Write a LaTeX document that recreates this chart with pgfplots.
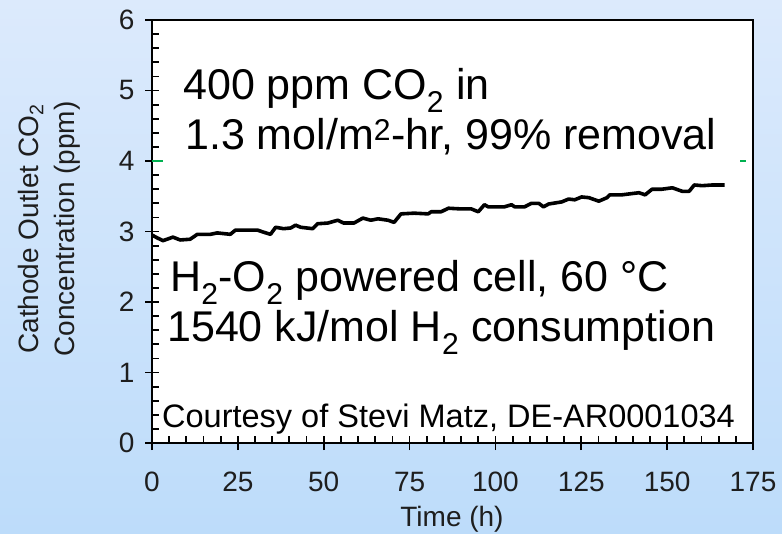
\documentclass[border=0pt]{standalone}
\usepackage{pgfplots}
\pgfplotsset{compat=1.18}
\usepackage{pgfplotstable}
\usepackage{fontspec}
\setmainfont{Liberation Sans}
\definecolor{bgtop}{RGB}{220,234,252}
\definecolor{bgbot}{RGB}{189,220,250}
\definecolor{lgreen}{RGB}{0,176,80}
\definecolor{txt}{RGB}{30,30,30}

\pgfplotstableread{
t c
0 2.95
1.5 2.91
3.2 2.87
6.1 2.92
8.2 2.88
11.1 2.89
13.2 2.96
17.0 2.96
19.0 2.98
22.8 2.96
24.3 3.02
30.7 3.02
32.5 2.99
34.5 2.96
36.0 3.06
38.3 3.04
40.4 3.05
41.8 3.09
43.3 3.06
46.8 3.04
48.2 3.11
51.2 3.12
54.1 3.16
55.8 3.12
58.8 3.12
61.4 3.19
63.7 3.16
65.8 3.18
68.7 3.16
70.5 3.13
72.5 3.25
76.3 3.26
80.4 3.25
81.3 3.28
84.2 3.28
86.3 3.33
90.1 3.32
93.0 3.32
95.0 3.28
96.8 3.38
97.9 3.35
102.6 3.35
104.7 3.38
105.6 3.35
108.5 3.35
110.5 3.40
112.6 3.40
114.0 3.35
115.5 3.39
119.3 3.42
121.3 3.46
123.1 3.45
125.1 3.49
127.2 3.48
130.1 3.43
132.5 3.48
133.3 3.52
136.8 3.52
141.8 3.55
143.6 3.52
145.6 3.60
148.5 3.60
151.5 3.62
154.4 3.57
156.4 3.57
157.9 3.66
160.2 3.65
163.2 3.66
166.7 3.66
}\co

\begin{document}
\begin{tikzpicture}[x=1pt,y=1pt]
\shade[top color=bgtop,bottom color=bgbot] (0,0) rectangle (782,533);
\begin{axis}[
  at={(152pt,90pt)}, anchor=south west,
  scale only axis, width=601pt, height=423pt,
  xmin=0, xmax=175, ymin=0, ymax=6,
  xtick={0,25,...,175}, ytick={0,1,...,6},
  minor x tick num=4, minor y tick num=4,
  xtick pos=bottom, ytick pos=left,
  tick align=inside, major tick length=7pt, minor tick length=7pt,
  extra x ticks={0,25,...,175}, extra x tick labels={},
  extra y ticks={0,1,...,6}, extra y tick labels={},
  extra tick style={tick align=outside, major tick length=7pt},
  axis line style={line width=2.4pt},
  every tick/.style={black, line width=1.8pt},
  axis background/.style={fill=white},
  /pgf/number format/assume math mode=true,
  ticklabel style={font=\fontsize{28}{32}\selectfont, text=txt},
  xticklabel style={anchor=base, yshift=-48pt},
  yticklabel style={anchor=east, xshift=-14pt},
  clip=false,
]
\addplot[lgreen, line width=2pt] coordinates {(0,4) (173,4)};
\addplot[black, line width=3.6pt, line join=round] table[x=t,y=c] {\co};
\end{axis}
\fill[white] (163,533-48) rectangle (740,533-176);
\node[anchor=base west, font=\fontsize{43}{50}\selectfont, inner sep=0pt] at (183,533-100) {400 ppm CO\textsubscript{2} in};
\node[anchor=base west, font=\fontsize{43}{50}\selectfont, inner sep=0pt] at (185,533-150) {1.3 mol/m\textsuperscript{2}-hr, 99\% removal};
\node[anchor=base west, font=\fontsize{43}{50}\selectfont, inner sep=0pt] at (170,533-292) {H\textsubscript{2}-O\textsubscript{2} powered cell, 60 °C};
\node[anchor=base west, font=\fontsize{43}{50}\selectfont, inner sep=0pt] at (167,533-342) {1540 kJ/mol H\textsubscript{2} consumption};
\node[anchor=base west, font=\fontsize{32.5}{36}\selectfont, inner sep=0pt] at (162,533-428) {Courtesy of Stevi Matz, DE-AR0001034};
\node[rotate=90, align=center, font=\fontsize{28}{36}\selectfont, text=txt] at (49,533-229) {Cathode Outlet CO\textsubscript{2}\\Concentration (ppm)};
\node[anchor=base, font=\fontsize{28}{32}\selectfont, text=txt, inner sep=0pt] at (452,6) {Time (h)};
\end{tikzpicture}
\end{document}
